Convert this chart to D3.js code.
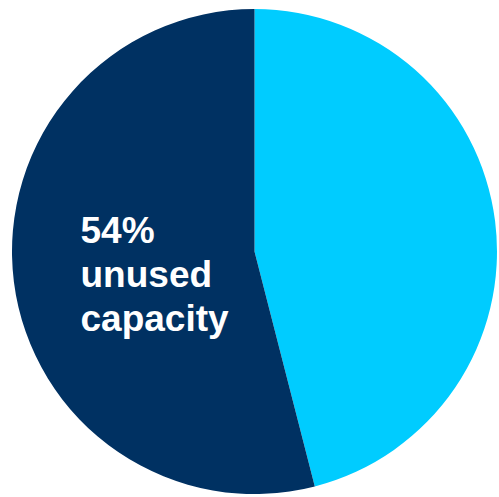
<!DOCTYPE html>
<html>
<head>
<meta charset="utf-8">
<script src="https://cdn.jsdelivr.net/npm/d3@7"></script>
<style>
  html, body { margin: 0; padding: 0; background: #fff; }
  svg { display: block; }
</style>
</head>
<body>
<div id="chart"></div>
<script>
// capacity split
const segments = ["used", "unused"];
const shares = [46, 54];
const colours = ["#00CCFF", "#003162"];
const labelLines = ["54%", "unused", "capacity"];

const width = 499;
const height = 497;
const cx = 254.5, cy = 251.5;
const radius = 242.5;

const svg = d3.select("#chart").append("svg")
    .attr("width", width)
    .attr("height", height);

const g = svg.append("g")
    .attr("transform", `translate(${cx},${cy})`);

const pie = d3.pie().sort(null).value(d => d.value);
const arc = d3.arc().innerRadius(0).outerRadius(radius);

const data = segments.map((s, i) => ({name: s, value: shares[i]}));

g.selectAll("path")
    .data(pie(data))
    .join("path")
    .attr("fill", (d, i) => colours[i])
    .attr("d", arc);

// label inside the dark slice
const label = svg.append("text")
    .attr("fill", "#fff")
    .style("font", "bold 37px 'Liberation Sans', Arial, sans-serif");

label.selectAll("tspan")
    .data(labelLines)
    .join("tspan")
    .attr("x", 80.5)
    .attr("y", (d, i) => 243 + i * 44)
    .text(d => d);
</script>
</body>
</html>
